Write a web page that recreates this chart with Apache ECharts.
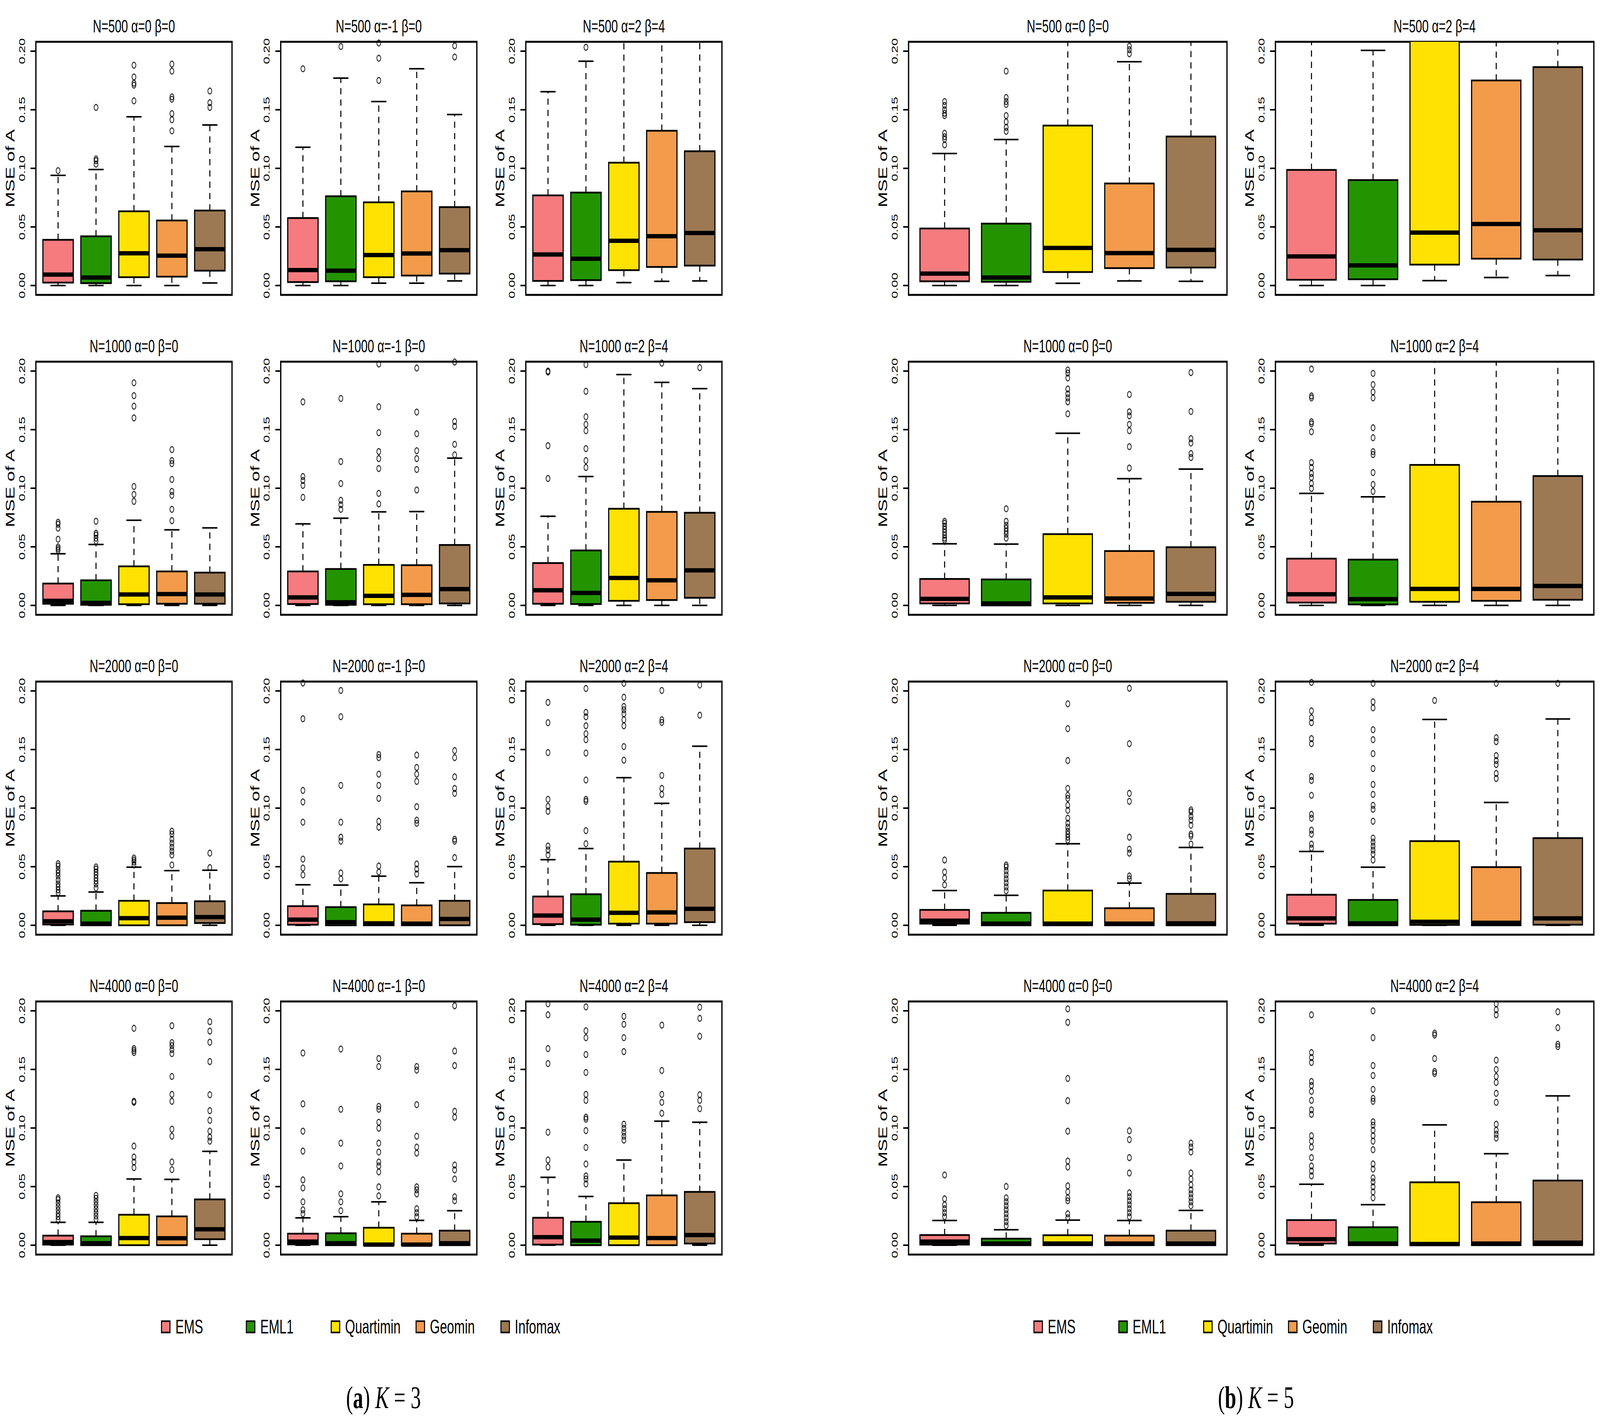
<!DOCTYPE html>
<html>
<head>
<meta charset="utf-8">
<title>MSE of A boxplots</title>
<script src="https://cdn.jsdelivr.net/npm/echarts@6.0.0/dist/echarts.min.js"></script>
<style>
  html, body { margin: 0; padding: 0; background: #fff; overflow: hidden; }
  #chart { width: 6241px; height: 3633px; transform-origin: 0 0; }
</style>
</head>
<body>
<div id="chart"></div>
<script>
// methods shown in every panel, left to right
const METHODS = ['EMS', 'EML1', 'Quartimin', 'Geomin', 'Infomax'];
const COLORS = ['#F67B7E', '#239400', '#FFE200', '#F39B4B', '#9C7853'];
const Y_TICKS = [0, 0.05, 0.10, 0.15, 0.20];

// box stats per method: [lower whisker, Q1, median, Q3, upper whisker]
// (whiskers/boxes running off the top of the plot are given a value above 0.208)

// ---------- K = 3 ----------
const k3_n500_a0b0_box = [[0, 0.0025, 0.0093, 0.039, 0.094], [0, 0.002, 0.0068, 0.042, 0.099], [0, 0.0071, 0.0275, 0.0633, 0.144], [0, 0.0076, 0.0255, 0.0555, 0.1187], [0.0022, 0.0127, 0.031, 0.064, 0.137]];
const k3_n500_a0b0_out = [[0.098], [0.1036, 0.1065, 0.108, 0.152], [0.1576, 0.171, 0.1727, 0.178, 0.188], [0.132, 0.1415, 0.1467, 0.159, 0.161, 0.183, 0.189], [0.152, 0.156, 0.166]];

const k3_n500_am1b0_box = [[0, 0.0029, 0.0132, 0.0576, 0.118], [0, 0.0036, 0.0127, 0.0762, 0.177], [0.002, 0.0071, 0.026, 0.071, 0.157], [0.002, 0.0085, 0.0273, 0.0803, 0.185], [0.0039, 0.0102, 0.0302, 0.0669, 0.1459]];
const k3_n500_am1b0_out = [[0.185], [0.204], [0.175, 0.194, 0.207], [], [0.195, 0.2046]];

const k3_n500_a2b4_box = [[0, 0.0039, 0.0265, 0.0769, 0.1654], [0, 0.0046, 0.0228, 0.0793, 0.1914], [0.0025, 0.0131, 0.0382, 0.1048, 0.26], [0.0036, 0.0158, 0.0421, 0.1321, 0.27], [0.0039, 0.017, 0.0448, 0.1146, 0.26]];
const k3_n500_a2b4_out = [[], [0.2033], [], [], []];

const k3_n1000_a0b0_box = [[0, 0.0014, 0.0039, 0.0187, 0.0441], [0, 0.0005, 0.0022, 0.0214, 0.052], [0, 0.001, 0.0093, 0.0333, 0.0727], [0, 0.0014, 0.0097, 0.029, 0.0645], [0, 0.0014, 0.0093, 0.028, 0.0662]];
const k3_n1000_a0b0_out = [[0.047, 0.0485, 0.05, 0.0565, 0.0659, 0.0693, 0.071], [0.0548, 0.0574, 0.06, 0.0616, 0.0718], [0.0888, 0.0947, 0.1015, 0.16, 0.17, 0.179, 0.19], [0.0723, 0.082, 0.0939, 0.0973, 0.1075, 0.121, 0.1236, 0.133], []];

const k3_n1000_am1b0_box = [[0, 0.0012, 0.0068, 0.029, 0.0696], [0, 0.0005, 0.0027, 0.0311, 0.0744], [0, 0.001, 0.0082, 0.0346, 0.0798], [0, 0.001, 0.009, 0.0343, 0.0801], [0, 0.0017, 0.0139, 0.0516, 0.1257]];
const k3_n1000_am1b0_out = [[0.0922, 0.1024, 0.1066, 0.11, 0.1737], [0.082, 0.0859, 0.0897, 0.104, 0.1228, 0.1766], [0.0866, 0.0956, 0.1168, 0.1253, 0.1313, 0.1474, 0.1695, 0.206], [0.0985, 0.116, 0.1253, 0.132, 0.1465, 0.165, 0.2026], [0.1285, 0.1375, 0.1528, 0.157, 0.2077]];

const k3_n1000_a2b4_box = [[0, 0.0014, 0.0129, 0.0362, 0.0761], [0, 0.0012, 0.0107, 0.0469, 0.11], [0, 0.0039, 0.0234, 0.0825, 0.197], [0, 0.0046, 0.0214, 0.0798, 0.1903], [0, 0.0065, 0.0299, 0.0791, 0.185]];
const k3_n1000_a2b4_out = [[0.1083, 0.1363, 0.1992, 0.2], [0.1177, 0.1236, 0.1338, 0.1491, 0.1545, 0.161, 0.1827, 0.2055], [], [0.2068], [0.2029]];

const k3_n2000_a0b0_box = [[0, 0.0007, 0.0034, 0.0119, 0.0251], [0, 0, 0.0014, 0.0124, 0.0284], [0, 0, 0.0061, 0.0209, 0.0496], [0, 0, 0.0065, 0.019, 0.0467], [0, 0.0019, 0.007, 0.0205, 0.047]];
const k3_n2000_a0b0_out = [[0.0277, 0.0302, 0.0328, 0.0353, 0.0387, 0.0421, 0.0447, 0.0472, 0.0506, 0.0526], [0.0319, 0.0353, 0.0379, 0.0404, 0.043, 0.0455, 0.048, 0.0498], [0.0515, 0.054, 0.0557, 0.0574], [0.0515, 0.06, 0.0633, 0.0667, 0.0701, 0.0735, 0.0778, 0.0803], [0.0492, 0.0616]];

const k3_n2000_am1b0_box = [[0, 0.0005, 0.0048, 0.0163, 0.0346], [0, 0, 0.0027, 0.0155, 0.0343], [0, 0, 0.0017, 0.0178, 0.0419], [0, 0, 0.0014, 0.017, 0.0363], [0, 0, 0.0054, 0.0209, 0.0501]];
const k3_n2000_am1b0_out = [[0.043, 0.0489, 0.0565, 0.088, 0.1053, 0.1151, 0.1763, 0.2068], [0.0396, 0.0447, 0.0718, 0.0752, 0.088, 0.1194, 0.178, 0.2004], [0.0455, 0.0506, 0.0837, 0.0888, 0.1083, 0.1194, 0.129, 0.1431, 0.1457], [0.0438, 0.048, 0.0523, 0.0871, 0.0897, 0.1012, 0.1228, 0.129, 0.1347, 0.1453], [0.0577, 0.0718, 0.0735, 0.1126, 0.1168, 0.1267, 0.1431, 0.1491]];

const k3_n2000_a2b4_box = [[0, 0.001, 0.0083, 0.0246, 0.056], [0, 0.0005, 0.0048, 0.0265, 0.0655], [0, 0.0014, 0.0107, 0.0543, 0.126], [0, 0.0014, 0.011, 0.0447, 0.1041], [0, 0.0027, 0.0141, 0.0655, 0.1528]];
const k3_n2000_a2b4_out = [[0.06, 0.0642, 0.0676, 0.0973, 0.1015, 0.1075, 0.1474, 0.1729, 0.1902], [0.0696, 0.0808, 0.1058, 0.1075, 0.124, 0.147, 0.1584, 0.1635, 0.1703, 0.178, 0.1817, 0.2021], [0.1409, 0.1525, 0.1703, 0.1754, 0.1805, 0.1839, 0.1868, 0.1946, 0.2065], [0.1117, 0.1168, 0.1279, 0.1732, 0.1754, 0.2004], [0.1793, 0.2051]];

const k3_n4000_a0b0_box = [[0, 0.0005, 0.0027, 0.0082, 0.0195], [0, 0, 0.0017, 0.0076, 0.0195], [0, 0, 0.0061, 0.026, 0.0565], [0, 0, 0.0059, 0.0246, 0.0562], [0, 0.0051, 0.0136, 0.0391, 0.0801]];
const k3_n4000_a0b0_out = [[0.0217, 0.0244, 0.027, 0.03, 0.033, 0.036, 0.039, 0.0405], [0.022, 0.025, 0.028, 0.031, 0.034, 0.037, 0.04, 0.0425], [0.0662, 0.071, 0.0752, 0.0846, 0.1219, 0.1228, 0.1644, 0.1661, 0.1678, 0.1851], [0.0645, 0.071, 0.093, 0.099, 0.1228, 0.1287, 0.144, 0.1635, 0.1669, 0.1703, 0.1729, 0.1873], [0.0888, 0.0922, 0.0973, 0.1066, 0.1148, 0.1284, 0.1567, 0.1732, 0.1827, 0.1907]];

const k3_n4000_am1b0_box = [[0, 0.0007, 0.0031, 0.0098, 0.0233], [0, 0, 0.0017, 0.0102, 0.0243], [0, 0, 0.0005, 0.0149, 0.037], [0, 0, 0.0005, 0.0098, 0.0212], [0, 0, 0.0017, 0.0124, 0.0294]];
const k3_n4000_am1b0_out = [[0.0268, 0.0302, 0.037, 0.0489, 0.0557, 0.0803, 0.0973, 0.1206, 0.164], [0.0294, 0.037, 0.0438, 0.0676, 0.0871, 0.116, 0.1674], [0.0421, 0.0498, 0.0625, 0.0676, 0.071, 0.0795, 0.0871, 0.0998, 0.1049, 0.116, 0.1185, 0.1525, 0.1593], [0.0243, 0.0277, 0.0311, 0.0438, 0.0472, 0.0498, 0.0786, 0.0837, 0.093, 0.1199, 0.1494, 0.1525], [0.0379, 0.0413, 0.0565, 0.0642, 0.0684, 0.1092, 0.1143, 0.1533, 0.1657, 0.2043]];

const k3_n4000_a2b4_box = [[0, 0.0005, 0.0068, 0.0234, 0.0579], [0, 0, 0.0039, 0.02, 0.0416], [0, 0, 0.0065, 0.0358, 0.0727], [0, 0, 0.0061, 0.0425, 0.1058], [0, 0.0014, 0.0087, 0.0455, 0.1049]];
const k3_n4000_a2b4_out = [[0.0667, 0.0727, 0.0964, 0.155, 0.1678, 0.1966, 0.206], [0.0523, 0.0565, 0.0591, 0.0693, 0.0834, 0.0978, 0.1075, 0.1092, 0.1236, 0.1287, 0.1474, 0.1627, 0.1771, 0.183, 0.2034], [0.0897, 0.093, 0.0964, 0.0998, 0.1032, 0.1652, 0.1771, 0.1885, 0.1953], [0.1126, 0.1219, 0.1287, 0.1491, 0.1878], [0.1165, 0.1236, 0.1284, 0.1783, 0.1936, 0.2031]];

// ---------- K = 5 ----------
const k5_n500_a0b0_box = [[0, 0.0036, 0.0102, 0.0487, 0.1127], [0, 0.0032, 0.0068, 0.0528, 0.1246], [0.0019, 0.0115, 0.0321, 0.1365, 0.27], [0.0039, 0.0148, 0.0277, 0.0871, 0.191], [0.0036, 0.0153, 0.0304, 0.1272, 0.27]];
const k5_n500_a0b0_out = [[0.12, 0.1248, 0.127, 0.13, 0.145, 0.147, 0.15, 0.1537, 0.157], [0.1316, 0.135, 0.1397, 0.145, 0.1545, 0.157, 0.1605, 0.183], [], [0.1978, 0.2012, 0.2043], []];

const k5_n500_a2b4_box = [[0, 0.0049, 0.0248, 0.0987, 0.27], [0, 0.0053, 0.0172, 0.09, 0.2007], [0.0042, 0.0178, 0.0452, 0.235, 0.3], [0.0068, 0.0229, 0.0525, 0.175, 0.28], [0.0085, 0.0222, 0.0472, 0.1864, 0.29]];
const k5_n500_a2b4_out = [[], [], [], [], []];

const k5_n1000_a0b0_box = [[0, 0.0017, 0.0056, 0.0226, 0.0526], [0, 0, 0.0017, 0.0222, 0.0523], [0, 0.0017, 0.0068, 0.0608, 0.1469], [0, 0.0022, 0.0059, 0.0464, 0.1082], [0, 0.0031, 0.0098, 0.0497, 0.1163]];
const k5_n1000_a0b0_out = [[0.0557, 0.0574, 0.0599, 0.0625, 0.065, 0.0676, 0.0701, 0.0718], [0.0574, 0.0608, 0.0633, 0.0659, 0.0684, 0.0718, 0.0825], [0.1635, 0.1737, 0.1771, 0.1805, 0.1847, 0.1941, 0.1983, 0.2009], [0.1172, 0.1355, 0.1491, 0.1545, 0.1618, 0.1652, 0.18], [0.1262, 0.1296, 0.1386, 0.1423, 0.1655, 0.1987]];

const k5_n1000_a2b4_box = [[0, 0.0024, 0.0095, 0.0399, 0.0956], [0, 0.0008, 0.0053, 0.0391, 0.0927], [0, 0.0031, 0.0141, 0.1199, 0.27], [0, 0.0039, 0.0141, 0.0885, 0.27], [0, 0.0048, 0.0166, 0.1104, 0.27]];
const k5_n1000_a2b4_out = [[0.0998, 0.1041, 0.1092, 0.1126, 0.1177, 0.1219, 0.1482, 0.155, 0.1567, 0.1771, 0.1788, 0.2017], [0.0973, 0.1032, 0.1134, 0.1287, 0.1312, 0.1431, 0.1516, 0.1771, 0.1822, 0.1885, 0.198], [], [], []];

const k5_n2000_a0b0_box = [[0, 0.0014, 0.0039, 0.0132, 0.0297], [0, 0, 0.0014, 0.0107, 0.0256], [0, 0, 0.0014, 0.0297, 0.0696], [0, 0, 0.0014, 0.0146, 0.036], [0, 0, 0.0017, 0.0268, 0.0664]];
const k5_n2000_a0b0_out = [[0.0345, 0.0404, 0.0455, 0.0557], [0.0294, 0.0328, 0.0362, 0.0396, 0.043, 0.0464, 0.0498, 0.0515], [0.0727, 0.0752, 0.0778, 0.0803, 0.0837, 0.0871, 0.0914, 0.0981, 0.1024, 0.1083, 0.1109, 0.1168, 0.1406, 0.1678, 0.189], [0.0396, 0.0421, 0.0616, 0.065, 0.0752, 0.1058, 0.1126, 0.155, 0.2023], [0.0693, 0.0761, 0.0778, 0.0854, 0.0897, 0.093, 0.0968, 0.0985]];

const k5_n2000_a2b4_box = [[0, 0.0014, 0.0059, 0.0261, 0.063], [0, 0, 0.0017, 0.0217, 0.0496], [0, 0.0003, 0.003, 0.0718, 0.1757], [0, 0, 0.0022, 0.0497, 0.1048], [0, 0.0005, 0.0059, 0.0744, 0.1761]];
const k5_n2000_a2b4_out = [[0.0659, 0.0693, 0.0778, 0.0812, 0.0914, 0.0947, 0.1109, 0.1236, 0.127, 0.155, 0.1593, 0.1729, 0.1771, 0.183, 0.2073], [0.0557, 0.0608, 0.0642, 0.0676, 0.071, 0.0744, 0.0888, 0.099, 0.1024, 0.1117, 0.1202, 0.1338, 0.1465, 0.1584, 0.1669, 0.1856, 0.1907, 0.2065], [0.1919], [0.1253, 0.1296, 0.1372, 0.1406, 0.1448, 0.1567, 0.1601, 0.2065], [0.2065]];

const k5_n4000_a0b0_box = [[0, 0.0005, 0.0031, 0.0087, 0.0211], [0, 0, 0.0014, 0.0056, 0.0132], [0, 0, 0.0014, 0.0085, 0.0214], [0, 0, 0.0014, 0.0082, 0.0211], [0, 0, 0.0014, 0.0124, 0.0297]];
const k5_n4000_a0b0_out = [[0.0243, 0.0277, 0.0311, 0.0345, 0.0396, 0.0599], [0.0166, 0.02, 0.0234, 0.0268, 0.0302, 0.0336, 0.037, 0.0404, 0.0501], [0.0234, 0.0268, 0.0379, 0.0404, 0.0455, 0.0506, 0.0667, 0.0718, 0.0973, 0.1233, 0.1423, 0.1902, 0.2017], [0.0243, 0.0277, 0.0311, 0.0345, 0.0379, 0.0413, 0.0447, 0.0616, 0.0747, 0.0901, 0.0976], [0.0336, 0.037, 0.0404, 0.0438, 0.0472, 0.0515, 0.0565, 0.0616, 0.0795, 0.0837, 0.0871]];

const k5_n4000_a2b4_box = [[0, 0.0014, 0.0051, 0.0214, 0.052], [0, 0, 0.0014, 0.0153, 0.0346], [0, 0, 0.001, 0.0537, 0.1027], [0, 0, 0.0014, 0.0367, 0.0781], [0, 0, 0.0022, 0.0552, 0.1274]];
const k5_n4000_a2b4_out = [[0.0591, 0.0633, 0.0676, 0.0747, 0.0837, 0.0888, 0.0934, 0.1117, 0.1155, 0.1236, 0.1313, 0.1363, 0.1397, 0.1559, 0.1601, 0.1644, 0.1966], [0.0404, 0.0455, 0.0498, 0.054, 0.0574, 0.065, 0.0693, 0.0815, 0.0888, 0.0934, 0.0981, 0.1024, 0.1053, 0.1228, 0.1253, 0.133, 0.1448, 0.1533, 0.1771, 0.2], [0.1465, 0.1482, 0.1593, 0.1793, 0.181], [0.0914, 0.0947, 0.0981, 0.1032, 0.1219, 0.1296, 0.1389, 0.144, 0.1499, 0.1579, 0.1966, 0.2009, 0.206], [0.1695, 0.1715, 0.1856, 0.1992]];

// panel list: which block (K), row and column it sits in
const PANELS = [
  { k: 3, row: 0, col: 0, title: 'N=500 α=0 β=0', box: k3_n500_a0b0_box, out: k3_n500_a0b0_out },
  { k: 3, row: 0, col: 1, title: 'N=500 α=-1 β=0', box: k3_n500_am1b0_box, out: k3_n500_am1b0_out },
  { k: 3, row: 0, col: 2, title: 'N=500 α=2 β=4', box: k3_n500_a2b4_box, out: k3_n500_a2b4_out },
  { k: 3, row: 1, col: 0, title: 'N=1000 α=0 β=0', box: k3_n1000_a0b0_box, out: k3_n1000_a0b0_out },
  { k: 3, row: 1, col: 1, title: 'N=1000 α=-1 β=0', box: k3_n1000_am1b0_box, out: k3_n1000_am1b0_out },
  { k: 3, row: 1, col: 2, title: 'N=1000 α=2 β=4', box: k3_n1000_a2b4_box, out: k3_n1000_a2b4_out },
  { k: 3, row: 2, col: 0, title: 'N=2000 α=0 β=0', box: k3_n2000_a0b0_box, out: k3_n2000_a0b0_out },
  { k: 3, row: 2, col: 1, title: 'N=2000 α=-1 β=0', box: k3_n2000_am1b0_box, out: k3_n2000_am1b0_out },
  { k: 3, row: 2, col: 2, title: 'N=2000 α=2 β=4', box: k3_n2000_a2b4_box, out: k3_n2000_a2b4_out },
  { k: 3, row: 3, col: 0, title: 'N=4000 α=0 β=0', box: k3_n4000_a0b0_box, out: k3_n4000_a0b0_out },
  { k: 3, row: 3, col: 1, title: 'N=4000 α=-1 β=0', box: k3_n4000_am1b0_box, out: k3_n4000_am1b0_out },
  { k: 3, row: 3, col: 2, title: 'N=4000 α=2 β=4', box: k3_n4000_a2b4_box, out: k3_n4000_a2b4_out },
  { k: 5, row: 0, col: 0, title: 'N=500 α=0 β=0', box: k5_n500_a0b0_box, out: k5_n500_a0b0_out },
  { k: 5, row: 0, col: 1, title: 'N=500 α=2 β=4', box: k5_n500_a2b4_box, out: k5_n500_a2b4_out },
  { k: 5, row: 1, col: 0, title: 'N=1000 α=0 β=0', box: k5_n1000_a0b0_box, out: k5_n1000_a0b0_out },
  { k: 5, row: 1, col: 1, title: 'N=1000 α=2 β=4', box: k5_n1000_a2b4_box, out: k5_n1000_a2b4_out },
  { k: 5, row: 2, col: 0, title: 'N=2000 α=0 β=0', box: k5_n2000_a0b0_box, out: k5_n2000_a0b0_out },
  { k: 5, row: 2, col: 1, title: 'N=2000 α=2 β=4', box: k5_n2000_a2b4_box, out: k5_n2000_a2b4_out },
  { k: 5, row: 3, col: 0, title: 'N=4000 α=0 β=0', box: k5_n4000_a0b0_box, out: k5_n4000_a0b0_out },
  { k: 5, row: 3, col: 1, title: 'N=4000 α=2 β=4', box: k5_n4000_a2b4_box, out: k5_n4000_a2b4_out }
];

// ---------- layout (pixels, in the 6241 x 3633 figure) ----------
const FIG_W = 6241, FIG_H = 3633;
const SANS = 'Liberation Sans, Arial, Helvetica, sans-serif';
const SERIF = 'Liberation Serif, Times New Roman, serif';
const ROW_TOP = [107, 926, 1745, 2564];
const ROW_H = 648;
const BLOCK = {
  3: { left: [140, 1095, 2051], width: 765, center: 1478, caption: '{p|(}{b|a}{p|) }{i|K}{p| = 3}' },
  5: { left: [3544, 4975], width: 1242, center: 4881, caption: '{p|(}{b|b}{p|) }{i|K}{p| = 5}' }
};
const X_MIN = 0.415, X_MAX = 5.585;   // R style padding around 1..5
const Y_MIN = -0.008, Y_MAX = 0.208;  // ylim c(0, .2) + 4%
const BOX_W = 0.8, CAP_W = 0.4;

function renderBox(params, api) {
  const x = api.value(0);
  const pLo = api.coord([x, api.value(1)]);
  const pQ1 = api.coord([x, api.value(2)]);
  const pMd = api.coord([x, api.value(3)]);
  const pQ3 = api.coord([x, api.value(4)]);
  const pHi = api.coord([x, api.value(5)]);
  const half = api.size([BOX_W, 0])[0] / 2;
  const cap = api.size([CAP_W, 0])[0] / 2;
  const cx = pLo[0];
  const dash = { stroke: '#000', lineWidth: 4, lineDash: [16, 13] };
  const solid = { stroke: '#000', lineWidth: 4 };
  return {
    type: 'group',
    children: [
      { type: 'line', shape: { x1: cx, y1: pQ3[1], x2: cx, y2: pHi[1] }, style: dash },
      { type: 'line', shape: { x1: cx, y1: pQ1[1], x2: cx, y2: pLo[1] }, style: dash },
      { type: 'line', shape: { x1: cx - cap, y1: pHi[1], x2: cx + cap, y2: pHi[1] }, style: solid },
      { type: 'line', shape: { x1: cx - cap, y1: pLo[1], x2: cx + cap, y2: pLo[1] }, style: solid },
      { type: 'rect', shape: { x: cx - half, y: pQ3[1], width: half * 2, height: pQ1[1] - pQ3[1] },
        style: { fill: api.visual('color'), stroke: '#000', lineWidth: 4.5 } },
      { type: 'line', shape: { x1: cx - half, y1: pMd[1], x2: cx + half, y2: pMd[1] },
        style: { stroke: '#000', lineWidth: 11 } }
    ]
  };
}

const grids = [], xAxes = [], yAxes = [], series = [], titles = [], legends = [];

PANELS.forEach((p, g) => {
  const b = BLOCK[p.k];
  const left = b.left[p.col], top = ROW_TOP[p.row];
  grids.push({ left: left, top: top, width: b.width, height: ROW_H, show: true,
    borderColor: '#000', borderWidth: 5, backgroundColor: 'transparent', containLabel: false });
  xAxes.push({ gridIndex: g, type: 'value', min: X_MIN, max: X_MAX, show: false });
  yAxes.push({
    gridIndex: g, type: 'value', min: Y_MIN, max: Y_MAX,
    axisLine: { show: false },
    axisTick: { show: true, length: 21, lineStyle: { color: '#000', width: 4 }, customValues: Y_TICKS },
    axisLabel: { show: true, customValues: Y_TICKS, formatter: v => v.toFixed(2), rotate: 90,
      margin: 38, fontSize: 34, color: '#000', fontFamily: SANS },
    splitLine: { show: false },
    name: 'MSE of A', nameLocation: 'middle', nameGap: 76, nameMoveOverlap: false,
    nameTextStyle: { fontSize: 48, color: '#000', fontFamily: SANS }
  });
  titles.push({ text: p.title, left: left + b.width / 2 - 5, top: top - 40 - 5,
    textAlign: 'center', textVerticalAlign: 'middle',
    textStyle: { fontSize: 46, fontWeight: 'normal', color: '#000', fontFamily: SANS } });

  METHODS.forEach((m, i) => {
    series.push({
      type: 'custom', name: m, xAxisIndex: g, yAxisIndex: g, clip: true,
      itemStyle: { color: COLORS[i] },
      encode: { x: 0, y: [1, 2, 3, 4, 5] },
      renderItem: renderBox,
      data: [[i + 1].concat(p.box[i])]
    });
  });
  const pts = [];
  p.out.forEach((vals, i) => vals.forEach(v => pts.push([i + 1, v])));
  series.push({
    type: 'scatter', xAxisIndex: g, yAxisIndex: g, clip: true, silent: true,
    symbol: 'circle', symbolSize: 15,
    itemStyle: { color: 'rgba(0,0,0,0)', borderColor: '#000', borderWidth: 3 },
    data: pts
  });
});

// legends and captions under each block
[3, 5].forEach(k => {
  const b = BLOCK[k];
  METHODS.forEach((m, i) => {
    legends.push({
      data: [{ name: m, icon: 'rect', itemStyle: { color: COLORS[i], borderColor: '#000', borderWidth: 4 } }],
      left: b.center - 850 + 331 * i, top: 3372, padding: 0,
      itemWidth: 33, itemHeight: 29,
      textStyle: { fontSize: 50, color: '#000', fontFamily: SANS, padding: [0, 0, 0, 16] }
    });
  });
  titles.push({
    text: b.caption, left: b.center + 18 - 5, top: 3578 - 5,
    textAlign: 'center', textVerticalAlign: 'middle',
    textStyle: {
      fontWeight: 'normal',
      rich: {
        p: { fontSize: 80, fontFamily: SERIF, fontWeight: 'normal', color: '#000' },
        b: { fontSize: 80, fontFamily: SERIF, fontWeight: 'bold', color: '#000' },
        i: { fontSize: 80, fontFamily: SERIF, fontStyle: 'italic', fontWeight: 'normal', color: '#000' }
      }
    }
  });
});

// the figure is laid out at 6241 x 3633; squeeze it into the window if that is smaller
const el = document.getElementById('chart');
const sx = Math.min(1, window.innerWidth / FIG_W);
const sy = Math.min(1, window.innerHeight / FIG_H);
if (sx < 1 || sy < 1) el.style.transform = 'scale(' + sx + ',' + sy + ')';

const chart = echarts.init(el, null, { renderer: 'svg' });
chart.setOption({
  animation: false,
  backgroundColor: '#fff',
  title: titles,
  legend: legends,
  grid: grids,
  xAxis: xAxes,
  yAxis: yAxes,
  series: series
});
</script>
</body>
</html>
